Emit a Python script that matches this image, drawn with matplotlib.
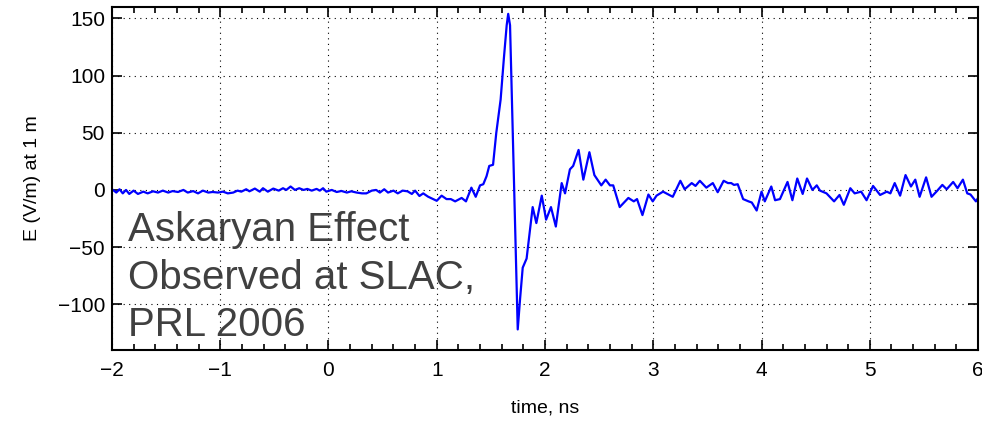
import matplotlib
matplotlib.use('Agg')
import matplotlib.pyplot as plt
from matplotlib.ticker import MultipleLocator

# Waveform (time in ns, field in V/m)
time_ns = [
    -2.00, -1.99, -1.96, -1.93, -1.90, -1.87, -1.84, -1.80, -1.76, -1.71,
    -1.67, -1.62, -1.575, -1.53, -1.48, -1.44, -1.39, -1.34, -1.30, -1.25,
    -1.205, -1.16, -1.11, -1.07, -1.02, -0.975, -0.93, -0.88, -0.84, -0.805,
    -0.76, -0.73, -0.68, -0.635, -0.605, -0.56, -0.51, -0.46, -0.42, -0.39,
    -0.35, -0.31, -0.27, -0.23, -0.196, -0.155, -0.11, -0.08, -0.05, -0.02,
    0.03, 0.076, 0.12, 0.17, 0.21, 0.26, 0.31, 0.35, 0.40, 0.44,
    0.475, 0.515, 0.55, 0.60, 0.64, 0.685, 0.73, 0.77, 0.80, 0.84,
    0.875, 0.92, 0.97, 1.00, 1.045, 1.09, 1.13, 1.17, 1.23, 1.27,
    1.32, 1.36, 1.40, 1.43, 1.46, 1.485, 1.52, 1.55, 1.59, 1.62,
    1.646, 1.66, 1.677, 1.748, 1.77, 1.794, 1.83, 1.86, 1.886, 1.92,
    1.97, 2.01, 2.055, 2.10, 2.154, 2.185, 2.23, 2.26, 2.31, 2.354,
    2.41, 2.456, 2.52, 2.56, 2.60, 2.63, 2.69, 2.77, 2.82, 2.85,
    2.90, 2.955, 2.995, 3.03, 3.09, 3.18, 3.25, 3.29, 3.355, 3.39,
    3.43, 3.49, 3.55, 3.595, 3.65, 3.69, 3.72, 3.745, 3.78, 3.83,
    3.88, 3.91, 3.955, 4.00, 4.03, 4.09, 4.125, 4.17, 4.24, 4.285,
    4.33, 4.38, 4.42, 4.47, 4.51, 4.54, 4.60, 4.67, 4.72, 4.76,
    4.82, 4.86, 4.92, 4.97, 5.03, 5.095, 5.157, 5.19, 5.23, 5.28,
    5.33, 5.38, 5.42, 5.46, 5.52, 5.57, 5.62, 5.67, 5.71, 5.77,
    5.81, 5.86, 5.90, 5.93, 5.98, 6.00,
]
field_vm = [
    -1.0, 0.0, -2.3, 0.6, -3.0, 0.0, -3.5, -0.6, -3.5, -1.5,
    -3.0, -1.2, -2.3, -0.6, -2.3, -1.0, -1.8, 0.0, -2.3, -1.0,
    -3.0, -0.6, -2.3, -1.8, -2.3, -1.5, -3.0, -2.3, -0.6, -1.5,
    0.6, -1.2, 1.2, -1.5, 1.5, -1.5, 1.2, -0.6, 1.5, 0.0,
    3.0, 0.0, 1.5, 0.0, 0.9, -0.6, 0.9, -0.6, 1.5, -1.5,
    0.0, -1.8, -0.9, -2.3, -1.2, -2.3, -3.0, -3.0, -0.6, 0.0,
    -2.3, 0.6, -2.3, -0.6, -3.0, -0.6, -1.2, -3.5, -0.6, -5.3,
    -3.0, -5.9, -8.2, -9.5, -5.0, -8.0, -8.0, -10.0, -7.0, -10.0,
    2.0, -6.0, 4.0, 5.0, 12.0, 21.0, 22.0, 50.0, 79.0, 115.0,
    144.0, 154.0, 144.0, -122.0, -95.0, -68.0, -60.0, -36.0, -15.0, -29.0,
    -5.0, -26.0, -15.0, -32.0, 6.0, -3.0, 18.0, 21.0, 35.0, 9.0,
    33.0, 13.0, 4.0, 9.0, 4.0, 4.0, -15.0, -7.0, -10.0, -8.0,
    -22.0, -4.0, -10.0, -5.0, -1.5, -6.0, 8.0, 0.6, 6.0, 3.5,
    8.0, 2.0, 6.0, -2.0, 8.0, 6.0, 6.0, 4.4, 5.0, -8.0,
    -10.0, -11.0, -18.0, -1.5, -10.0, 3.0, -9.0, -8.0, 7.0, -9.0,
    10.0, -3.5, 10.0, 0.0, 4.0, -0.6, -3.0, -10.0, -4.4, -13.0,
    1.5, -3.0, -1.5, -9.0, 3.5, -4.4, -1.5, -3.0, 6.0, -5.0,
    13.0, 3.0, 9.0, -6.0, 11.0, -6.0, -1.0, 4.4, 0.6, 7.0,
    1.5, 9.0, -3.0, -4.0, -10.0, -7.0,
]
x_ticks = [-2, -1, 0, 1, 2, 3, 4, 5, 6]
y_ticks = [-100, -50, 0, 50, 100, 150]
note_lines = ['Askaryan Effect', 'Observed at SLAC,', 'PRL 2006']

plt.rcParams['font.family'] = ['Liberation Sans', 'DejaVu Sans']
plt.rcParams['axes.unicode_minus'] = True

fig = plt.figure(figsize=(9.82, 4.24), dpi=100)
ax = fig.add_axes([0.114, 0.1745, 0.882, 0.809])

ax.plot(time_ns, field_vm, color='#0000ff', linewidth=1.6,
        solid_joinstyle='round')

ax.set_xlim(-2, 6)
ax.set_ylim(-140, 160)
ax.set_xticks(x_ticks)
ax.set_yticks(y_ticks)
ax.xaxis.set_minor_locator(MultipleLocator(0.2))

ax.grid(True, which='major', color='black', linestyle=(0, (1, 4)), linewidth=0.8)
ax.tick_params(which='both', direction='in', top=True, right=True, labelsize=15, width=1.2)
ax.tick_params(which='major', length=7)
ax.tick_params(which='minor', length=4)
ax.tick_params(axis='x', pad=8)
ax.tick_params(axis='y', pad=5)
for sp in ax.spines.values():
    sp.set_linewidth(1.5)

ax.set_xlabel('time, ns', fontsize=14, labelpad=14)
ax.set_ylabel('E (V/m) at 1 m', fontsize=14, labelpad=12)

# Overlay caption
ax.text(0.019, 0.405, '\n'.join(note_lines), transform=ax.transAxes,
        fontsize=29, color='#404040', va='top', ha='left', linespacing=1.32)

fig.savefig('out.png', dpi=100)
